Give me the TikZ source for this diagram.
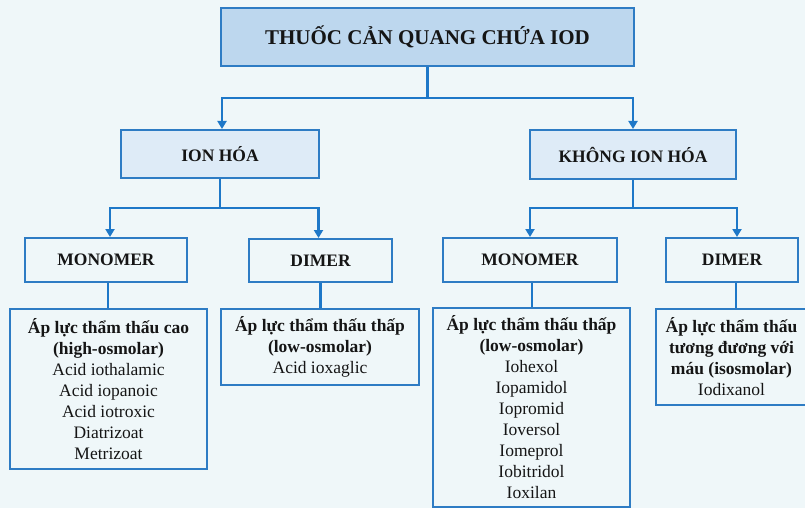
\documentclass[tikz,border=0pt]{standalone}
\usepackage{fontspec}
\setmainfont{Liberation Serif}
\usetikzlibrary{arrows.meta}
\definecolor{bg}{HTML}{EFF7F9}
\definecolor{frame}{HTML}{2E7CC4}
\definecolor{linec}{HTML}{1E78C8}
\definecolor{titlefill}{HTML}{BDD7EE}
\definecolor{midfill}{HTML}{DEEBF7}
\definecolor{ink}{HTML}{151515}
\begin{document}
\begin{tikzpicture}[x=1pt,y=-1pt,
  box/.style={draw=frame,line width=2pt,inner sep=0pt,align=center,text=ink},
  conn/.style={draw=linec,line width=2.4pt},
  arr/.style={conn,-{Triangle[width=9pt,length=8pt]}},
  headfont/.style={font=\fontsize{17.5}{21}\selectfont\bfseries},
  leaffont/.style={font=\fontsize{17.5}{21}\selectfont}]
\clip (0,0) rectangle (805,508);
\fill[bg] (0,0) rectangle (805,508);

\node[box,fill=titlefill,minimum width=413pt,minimum height=58pt,font=\fontsize{21}{25}\selectfont\bfseries] (title) at (427.5,37) {THUỐC CẢN QUANG CHỨA IOD};

\node[box,fill=midfill,minimum width=198pt,minimum height=48pt,headfont] (ion) at (220,154) {ION HÓA};
\node[box,fill=midfill,minimum width=206pt,minimum height=49pt,headfont] (kion) at (633,154.5) {KHÔNG ION HÓA};

\node[box,fill=bg,minimum width=162pt,minimum height=44pt,headfont] (m1) at (106,260) {MONOMER};
\node[box,fill=bg,minimum width=143pt,minimum height=43pt,headfont] (d1) at (320.5,260.5) {DIMER};
\node[box,fill=bg,minimum width=174pt,minimum height=44pt,headfont] (m2) at (530,260) {MONOMER};
\node[box,fill=bg,minimum width=132pt,minimum height=44pt,headfont] (d2) at (732,260) {DIMER};

\node[box,fill=bg,minimum width=197pt,minimum height=160pt,leaffont] (l1) at (108.5,389)
  {\textbf{Áp lực thẩm thấu cao}\\\textbf{(high-osmolar)}\\Acid iothalamic\\Acid iopanoic\\Acid iotroxic\\Diatrizoat\\Metrizoat};
\node[box,fill=bg,minimum width=198pt,minimum height=76pt,leaffont] (l2) at (320,347)
  {\textbf{Áp lực thẩm thấu thấp}\\\textbf{(low-osmolar)}\\Acid ioxaglic};
\node[box,fill=bg,minimum width=197pt,minimum height=199pt,leaffont] (l3) at (531.5,407.5)
  {\textbf{Áp lực thẩm thấu thấp}\\\textbf{(low-osmolar)}\\Iohexol\\Iopamidol\\Iopromid\\Ioversol\\Iomeprol\\Iobitridol\\Ioxilan};
\node[box,fill=bg,minimum width=151pt,minimum height=96pt,leaffont] (l4) at (731.5,357)
  {\textbf{Áp lực thẩm thấu}\\\textbf{tương đương với}\\\textbf{máu (isosmolar)}\\Iodixanol};

\draw[conn] (title.south) -- ++(0,31) coordinate (tj);
\draw[arr] (tj) -| ([xshift=2pt]ion.north);
\draw[arr] (tj) -| (kion.north);

\draw[conn] (ion.south) -- ++(0,29) coordinate (ij);
\draw[arr] (ij) -| ([xshift=4pt]m1.north);
\draw[arr] (ij) -| ([xshift=-2pt]d1.north);

\draw[conn] (kion.south) -- ++(0,28) coordinate (kj);
\draw[arr] (kj) -| (m2.north);
\draw[arr] (kj) -| ([xshift=5pt]d2.north);

\draw[conn] ([xshift=2pt]m1.south) -- ([xshift=2pt]m1.south |- l1.north);
\draw[conn] (d1.south) -- (d1.south |- l2.north);
\draw[conn] ([xshift=2pt]m2.south) -- ([xshift=2pt]m2.south |- l3.north);
\draw[conn] ([xshift=4pt]d2.south) -- ([xshift=4pt]d2.south |- l4.north);
\end{tikzpicture}
\end{document}
